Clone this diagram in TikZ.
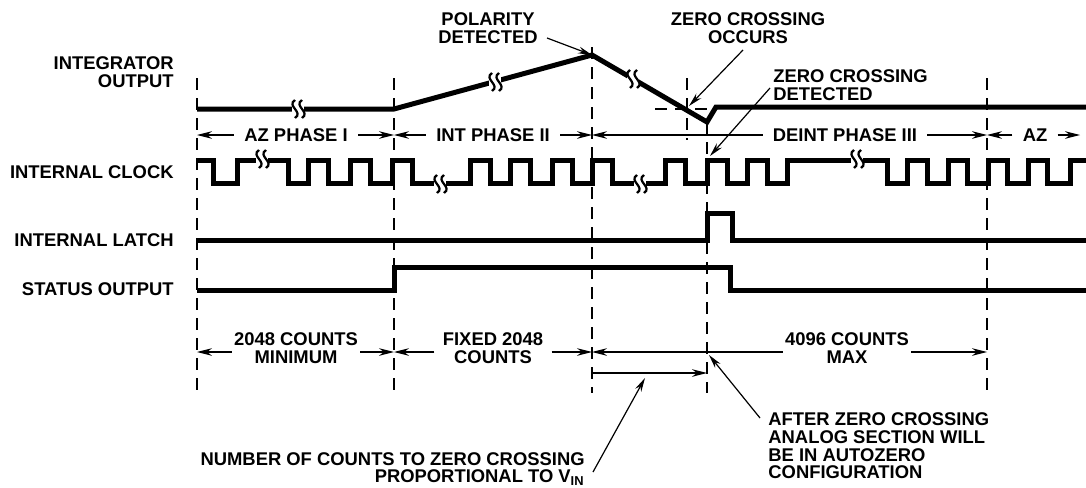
\documentclass[tikz,border=0pt]{standalone}
\usepackage{fontspec}
\setmainfont{Liberation Sans}
\usetikzlibrary{arrows.meta}
\tikzset{
  % thick signal trace
  sig/.style={line width=2.5pt},
  % dashed timing guide
  guide/.style={line width=0.6pt,dash pattern=on 6pt off 4pt},
  % break mark strokes
  brk/.style={line width=1.1pt},
  % dimension arrows
  dim/.style={-{Stealth[length=7.5pt,width=3.8pt]},line width=0.6pt},
  % pointer arrows from notes
  note/.style={-{Stealth[length=7pt,width=3.4pt]},line width=0.6pt},
  % texts
  lbl/.style={font=\fontsize{9.2}{8.8}\selectfont\bfseries,inner sep=0pt},
  siglbl/.style={lbl,anchor=east,align=right},
  phlbl/.style={lbl,inner xsep=5pt},
  cntlbl/.style={lbl,align=center,inner xsep=1pt},
}
% break mark on a trace
\newcommand{\zbreak}[2]{%
  \fill[white] (#1-6,#2-6) rectangle (#1+6,#2+6);
  \draw[brk] (#1-3,#2-9) .. controls (#1-12,#2-3) and (#1+6,#2+3) .. (#1-3,#2+9);
  \draw[brk] (#1+4,#2-9) .. controls (#1-5,#2-3) and (#1+13,#2+3) .. (#1+4,#2+9);
}

\begin{document}
\begin{tikzpicture}[x=0.5pt,y=-0.5pt]
  \useasboundingbox (0,0) rectangle (1086,487);

  % timing marks and rows
  \coordinate (tA) at (197,0);
  \coordinate (tB) at (394,0);
  \coordinate (tC) at (592,0);
  \coordinate (tD) at (707,0);
  \coordinate (tE) at (987,0);
  \coordinate (tR) at (1080,0);
  \coordinate (rowP) at (0,135);
  \coordinate (rowC) at (0,352);
  \coordinate (rowV) at (0,373);

  % Guides
  \foreach \x/\top in {197/78,394/78,592/47,707/122,987/78}
    \draw[guide] (\x,\top) -- (\x,393);
  \draw[guide] (655,109) -- (712,109);
  \draw[guide] (687,78) -- (687,140);

  % Integrator output
  \draw[sig] (197,109) -- (394,109) -- (592,55) -- (707,122) -- (716,107) -- (1086,107);
  \coordinate (pk) at (592,55);

  % Internal clock
  \draw[sig] (197,160)
    \foreach \f/\r in {213/237,288/308,328/350,370/392,412/470,490/510,530/552,
                       572/592,612/665,685/707,727/747,767/787,887/907,927/948,
                       967/988,1007/1028,1047/1070}
      { -- (\f,160) -- (\f,183) -- (\r,183) -- (\r,160) } -- (1086,160);

  % Internal latch
  \draw[sig] (197,240) -- (707,240) -- (707,213) -- (732,213) -- (732,240) -- (1086,240);

  % Status output
  \draw[sig] (197,290) -- (394,290) -- (394,267) -- (730,267) -- (730,290) -- (1086,290);

  % Breaks
  \zbreak{298}{109}
  \zbreak{495}{82}
  \zbreak{633}{79}
  \zbreak{262}{159}
  \zbreak{440}{184}
  \zbreak{640}{184}
  \zbreak{857}{159}

  % Signal names
  \node[siglbl] (lblInt) at (174,72) {INTEGRATOR\\OUTPUT};
  \node[siglbl] (lblClk) at (174,172) {INTERNAL CLOCK};
  \node[siglbl] (lblLatch) at (174,240) {INTERNAL LATCH};
  \node[siglbl] (lblStat) at (174,289) {STATUS OUTPUT};

  % Phases
  \node[phlbl] (ph1) at (296,135) {AZ PHASE I};
  \draw[dim] (ph1.west) -- (ph1.west -| tA);
  \draw[dim] (ph1.east) -- (ph1.east -| tB);
  \node[phlbl] (ph2) at (493,135) {INT PHASE II};
  \draw[dim] (ph2.west) -- (ph2.west -| tB);
  \draw[dim] (ph2.east) -- (ph2.east -| tC);
  \node[phlbl] (ph3) at (845,135) {DEINT PHASE III};
  \draw[dim] (ph3.west) -- (ph3.west -| tC);
  \draw[dim] (ph3.east) -- (ph3.east -| tE);
  \node[phlbl] (ph4) at (1035,135) {AZ};
  \draw[dim] (ph4.west) -- (ph4.west -| tE);
  \draw[dim] (ph4.east) -- (ph4.east -| tR);

  % Counts
  \node[cntlbl] (cnt1) at (296,348) {2048 COUNTS\\MINIMUM};
  \draw[dim] (cnt1.west |- rowC) -- (tA |- rowC);
  \draw[dim] (cnt1.east |- rowC) -- (tB |- rowC);
  \node[cntlbl] (cnt2) at (493,348) {FIXED 2048\\COUNTS};
  \draw[dim] ([xshift=-3pt]cnt2.west |- rowC) -- (tB |- rowC);
  \draw[dim] ([xshift=3pt]cnt2.east |- rowC) -- (tC |- rowC);
  \node[cntlbl] (cnt3) at (847,348) {4096 COUNTS\\MAX};
  \draw[dim] (cnt3.west |- rowC) -- (tC |- rowC);
  \draw[dim] (cnt3.east |- rowC) -- (tE |- rowC);
  \draw[{Bar[width=6pt]}-{Stealth[length=7.5pt,width=3.8pt]},line width=0.6pt]
    (tC |- rowV) -- (tD |- rowV);

  % Notes
  \node[lbl,align=center] (pol) at (488,28) {POLARITY\\DETECTED};
  \coordinate (polA) at (547,38);
  \draw[note] (polA) -- (pk);

  \node[lbl,align=center] (zco) at (748,28) {ZERO CROSSING\\OCCURS};
  \coordinate (zcoA) at (743,50);
  \coordinate (zx) at (689,106);
  \draw[note] (zcoA) -- (zx);

  \node[lbl,anchor=west,align=left] (zcd) at (773,85) {ZERO CROSSING\\DETECTED};
  \coordinate (zcdA) at (770,88);
  \coordinate (clkEdge) at (710,156);
  \draw[note] (zcdA) -- (clkEdge);

  \node[lbl,anchor=east,align=right] (num) at (585,469)
    {NUMBER OF COUNTS TO ZERO CROSSING\\PROPORTIONAL TO V\textsubscript{IN}};
  \coordinate (numA) at (593,472);
  \coordinate (nzMid) at (645,378);
  \draw[note] (numA) -- (nzMid);

  \node[lbl,anchor=west,align=left] (aft) at (768,446)
    {AFTER ZERO CROSSING\\ANALOG SECTION WILL\\BE IN AUTOZERO\\CONFIGURATION};
  \coordinate (aftA) at (760,418);
  \coordinate (cntMark) at (709,355);
  \draw[note] (aftA) -- (cntMark);
\end{tikzpicture}
\end{document}
